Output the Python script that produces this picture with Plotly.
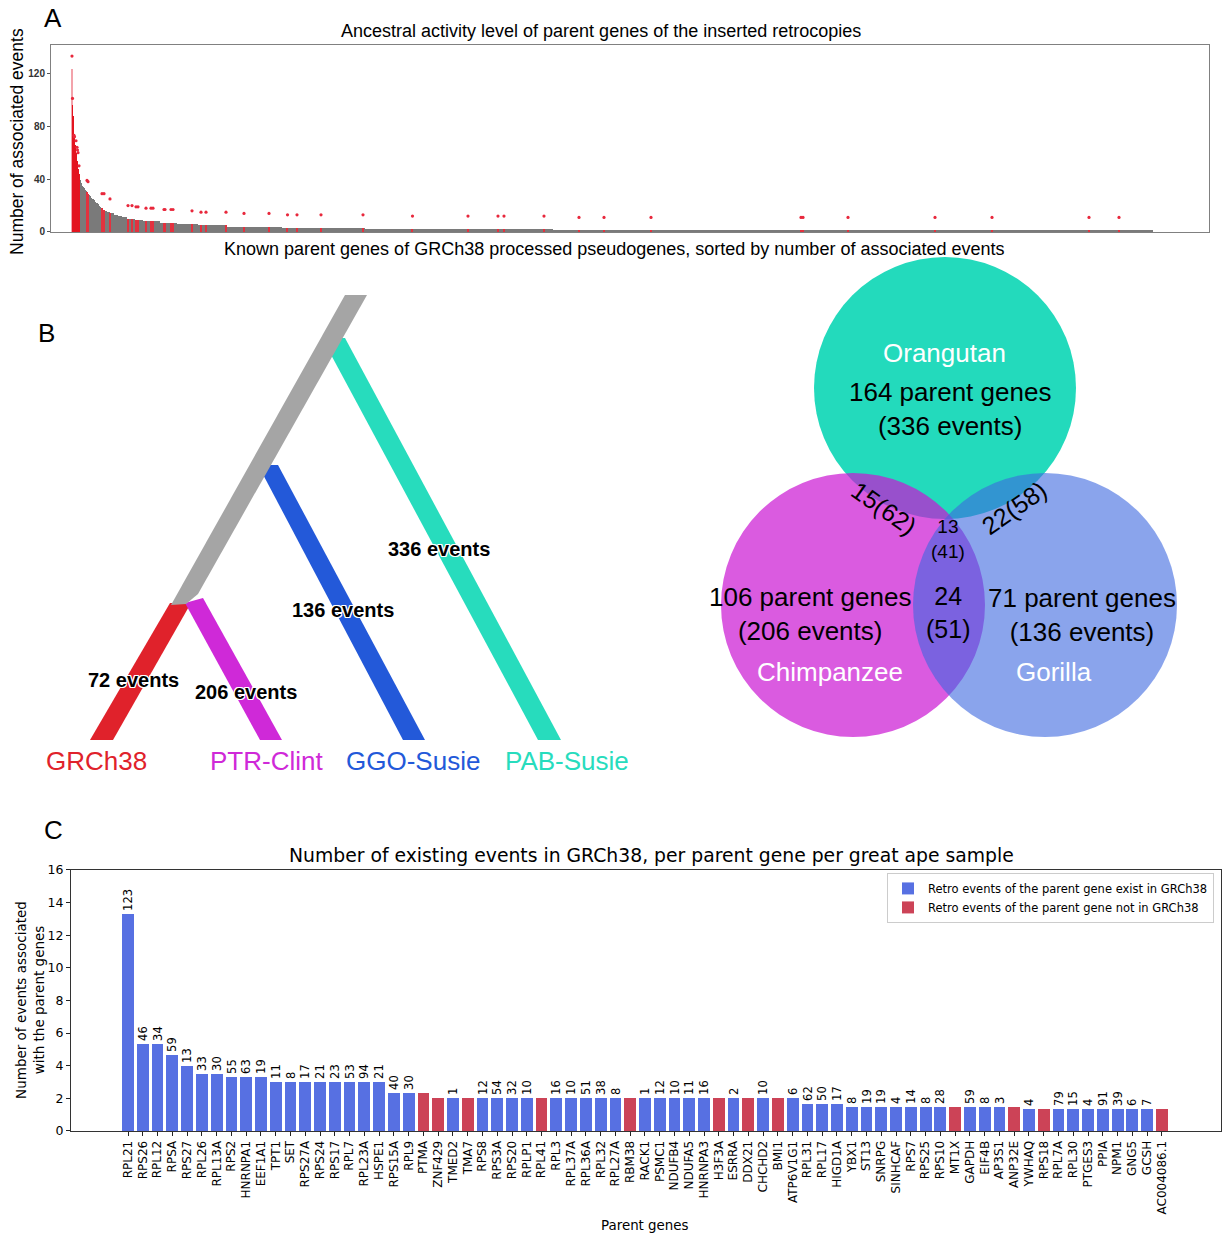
import plotly.graph_objects as go

# ---------------- Panel A data ----------------
top_gene_events = [123, 96, 88, 80, 74, 70, 66, 63, 60, 57, 54, 51, 48, 46, 44, 42]
level_events = [39, 37, 35, 34, 33, 32, 31, 30, 29, 28, 27, 26, 25, 24, 23, 22, 21, 20, 19,
                18, 17, 16, 15, 14, 13, 12, 11, 10, 9, 8, 7, 6, 5, 4, 3, 2, 1]
level_gene_counts = [2, 2, 2, 2, 2, 2, 2, 2, 2, 2, 2, 3, 3, 2, 3, 3, 2, 2, 3,
                     4, 3, 4, 6, 8, 8, 8, 10, 16, 16, 34, 34, 42, 58, 110, 166, 376, 1200]
active_gene_rank = [0, 1, 4, 5, 8, 10, 11, 12, 14, 30, 32, 60, 64, 76, 112, 120, 128, 132,
                    148, 158, 162, 184, 186, 198, 202, 240, 258, 268, 308, 344, 394, 431,
                    450, 498, 582, 681, 792, 852, 864, 944, 1014, 1064, 1158, 1458, 1462,
                    1552, 1726, 1840, 2034, 2094]
active_gene_ancestral = [133, 101, 73, 72, 69, 64, 62, 60, 50, 39, 38, 29, 29, 25, 20, 20, 19,
                         19, 18, 18, 18, 17, 17, 17, 17, 16, 15, 15, 15, 14, 14, 13, 13, 13,
                         13, 12, 12, 12, 12, 12, 11, 11, 11, 11, 11, 11, 11, 11, 11, 11]

# ---------------- Panel B data ----------------
tree_samples = ["GRCh38", "PTR-Clint", "GGO-Susie", "PAB-Susie"]
tree_events = [72, 206, 136, 336]
venn_species = ["Orangutan", "Chimpanzee", "Gorilla"]
venn_unique_genes = [164, 106, 71]
venn_unique_events = [336, 206, 136]
venn_pairs = ["Orangutan&Chimpanzee", "Orangutan&Gorilla", "Chimpanzee&Gorilla"]
venn_pair_genes = [15, 22, 24]
venn_pair_events = [62, 58, 51]
venn_all_genes = 13
venn_all_events = 41

# ---------------- Panel C data ----------------
genes = ["RPL21", "RPS26", "RPL12", "RPSA", "RPS27", "RPL26", "RPL13A", "RPS2", "HNRNPA1",
         "EEF1A1", "TPT1", "SET", "RPS27A", "RPS24", "RPS17", "RPL7", "RPL23A", "HSPE1",
         "RPS15A", "RPL9", "PTMA", "ZNF429", "TMED2", "TMA7", "RPS8", "RPS3A", "RPS20",
         "RPLP1", "RPL41", "RPL3", "RPL37A", "RPL36A", "RPL32", "RPL27A", "RBM38", "RACK1",
         "PSMC1", "NDUFB4", "NDUFA5", "HNRNPA3", "H3F3A", "ESRRA", "DDX21", "CHCHD2", "BMI1",
         "ATP6V1G1", "RPL31", "RPL17", "HIGD1A", "YBX1", "ST13", "SNRPG", "SINHCAF", "RPS7",
         "RPS25", "RPS10", "MT1X", "GAPDH", "EIF4B", "AP3S1", "ANP32E", "YWHAQ", "RPS18",
         "RPL7A", "RPL30", "PTGES3", "PPIA", "NPM1", "GNG5", "GCSH", "AC004086.1"]
events_per_sample = [13.33, 5.33, 5.33, 4.67, 4.0, 3.5, 3.5, 3.33, 3.33, 3.33, 3, 3, 3, 3, 3,
                     3, 3, 3, 2.33, 2.33, 2.33, 2, 2, 2, 2, 2, 2, 2, 2, 2, 2, 2, 2, 2, 2, 2,
                     2, 2, 2, 2, 2, 2, 2, 2, 2, 2, 1.67, 1.67, 1.67, 1.5, 1.5, 1.5, 1.5, 1.5,
                     1.5, 1.5, 1.5, 1.5, 1.5, 1.5, 1.5, 1.33, 1.33, 1.33, 1.33, 1.33, 1.33,
                     1.33, 1.33, 1.33, 1.33]
in_grch38 = [1, 1, 1, 1, 1, 1, 1, 1, 1, 1, 1, 1, 1, 1, 1, 1, 1, 1, 1, 1, 0, 0, 1, 0, 1, 1, 1,
             1, 0, 1, 1, 1, 1, 1, 0, 1, 1, 1, 1, 1, 0, 1, 0, 1, 0, 1, 1, 1, 1, 1, 1, 1, 1, 1,
             1, 1, 0, 1, 1, 1, 0, 1, 0, 1, 1, 1, 1, 1, 1, 1, 0]
grch38_events = [123, 46, 34, 59, 13, 33, 30, 55, 63, 19, 11, 8, 17, 21, 23, 53, 94, 21, 40, 30,
                 None, None, 1, None, 12, 54, 32, 10, None, 16, 10, 51, 38, 8, None, 1, 12, 10,
                 11, 16, None, 2, None, 10, None, 6, 62, 50, 17, 8, 19, 19, 4, 14, 8, 28, None,
                 59, 8, 3, None, 4, None, 79, 15, 4, 91, 39, 6, 7, None]

ARIAL = "Liberation Sans, Arial, sans-serif"
DEJAVU = "DejaVu Sans, sans-serif"
W = 1222
# page geometry: the figure sits 8 px down the page and the photographed page
# area is ~1250 px tall, squeezed into 1235 px.
PAGE_TOP = 8.1
VSCALE = 1250 / 1235
FIG_H = 1242

fig = go.Figure()

# ---------------- Panel A traces ----------------
gx, gy, gw = [], [], []
rank = len(top_gene_events)
run_bounds = []
for v, c in zip(level_events, level_gene_counts):
    gx.append(rank + (c - 1) / 2)
    gy.append(v)
    gw.append(c)
    run_bounds.append((rank, rank + c, v))
    rank += c

fig.add_trace(go.Bar(x=gx, y=gy, width=gw, marker=dict(color="#7a7a7a", line=dict(width=0)),
                     xaxis="x", yaxis="y", showlegend=False, hoverinfo="skip"))

top_x = list(range(len(top_gene_events)))
top_colors = ["#f3a3ab"] + ["#e3141f"] * (len(top_gene_events) - 1)
fig.add_trace(go.Bar(x=top_x, y=top_gene_events, width=[1.2] * len(top_x),
                     marker=dict(color=top_colors, line=dict(width=0)),
                     xaxis="x", yaxis="y", showlegend=False, hoverinfo="skip"))

hx, hy = [], []
for r in active_gene_rank:
    if r >= len(top_gene_events):
        for a, b, v in run_bounds:
            if a <= r < b:
                hx.append(r)
                hy.append(v)
                break
fig.add_trace(go.Bar(x=hx, y=hy, width=[2.2] * len(hx),
                     marker=dict(color="#e2323f", line=dict(width=0)),
                     xaxis="x", yaxis="y", showlegend=False, hoverinfo="skip"))

fig.add_trace(go.Scatter(x=active_gene_rank, y=active_gene_ancestral, mode="markers",
                         marker=dict(color="#e8283c", size=3.2, line=dict(width=0)),
                         xaxis="x", yaxis="y", showlegend=False, hoverinfo="skip"))

# ---------------- Panel C traces ----------------
bx = [i for i in range(len(genes)) if in_grch38[i]]
by = [events_per_sample[i] for i in bx]
bt = [str(grch38_events[i]) for i in bx]
rx = [i for i in range(len(genes)) if not in_grch38[i]]
ry = [events_per_sample[i] for i in rx]

fig.add_trace(go.Bar(x=bx, y=by, width=0.8, text=bt, textposition="outside", textangle=-90,
                     constraintext="none", cliponaxis=False,
                     textfont=dict(family=DEJAVU, size=11.5, color="black"),
                     marker=dict(color="#5770e2", line=dict(width=0)),
                     name="Retro events of the parent gene exist in GRCh38",
                     xaxis="x2", yaxis="y2", hoverinfo="skip"))
fig.add_trace(go.Bar(x=rx, y=ry, width=0.8,
                     marker=dict(color="#cc4357", line=dict(width=0)),
                     name="Retro events of the parent gene not in GRCh38",
                     xaxis="x2", yaxis="y2", hoverinfo="skip"))

# ---------------- Panel B tree (pixel-space overlay axis) ----------------
branch_color = {"GRCh38": "#e0222b", "PTR-Clint": "#cf29d8", "GGO-Susie": "#2359d9",
                "PAB-Susie": "#27dcbd"}
branch_poly = {
    "PAB-Susie": [(322, 338), (345, 338), (561, 740), (538, 740)],
    "GGO-Susie": [(258, 465), (278, 465), (425, 740), (403, 740)],
    "PTR-Clint": [(185, 603), (203, 598), (282, 740), (260, 740)],
    "GRCh38": [(170, 603), (191, 603), (113, 740), (90, 740)],
}
for s in tree_samples:
    pts = branch_poly[s] + [branch_poly[s][0]]
    fig.add_trace(go.Scatter(x=[p[0] for p in pts], y=[p[1] for p in pts], mode="lines",
                             fill="toself", fillcolor=branch_color[s],
                             line=dict(width=0, color=branch_color[s]),
                             xaxis="x3", yaxis="y3", showlegend=False, hoverinfo="skip"))
trunk = [(345, 295), (367, 295), (198, 594), (186, 604), (171, 605), (345, 295)]
fig.add_trace(go.Scatter(x=[p[0] for p in trunk], y=[p[1] for p in trunk], mode="lines",
                         fill="toself", fillcolor="#a5a5a5", line=dict(width=0, color="#a5a5a5"),
                         xaxis="x3", yaxis="y3", showlegend=False, hoverinfo="skip"))


def ann(text, x, y, size, color="black", family=ARIAL, angle=0, **kw):
    fig.add_annotation(text=text, x=x, y=y, xref="x3", yref="y3", showarrow=False,
                       font=dict(size=size, color=color, family=family, **kw.pop("fontkw", {})),
                       textangle=angle, xanchor="center", yanchor="middle", **kw)


halo = ("1px 1px 0 #fff, -1px -1px 0 #fff, 1px -1px 0 #fff, -1px 1px 0 #fff, "
        "0 1px 0 #fff, 0 -1px 0 #fff, 1px 0 0 #fff, -1px 0 0 #fff")
ev_pos = {"GRCh38": (133, 680), "PTR-Clint": (246, 692), "GGO-Susie": (343, 610),
          "PAB-Susie": (439, 549)}
tip_pos = {"GRCh38": 96, "PTR-Clint": 266, "GGO-Susie": 413, "PAB-Susie": 567}
for s, e in zip(tree_samples, tree_events):
    ann(f"{e} events", ev_pos[s][0], ev_pos[s][1], 20,
        fontkw=dict(shadow=halo, weight="bold"))
    ann(s, tip_pos[s], 761, 26, color=branch_color[s])

# ---------------- Venn ----------------
circles = {"Orangutan": (945, 388, 131, "rgb(35,218,188)", 1.0),
           "Chimpanzee": (853, 605, 132, "rgb(202,22,211)", 0.7),
           "Gorilla": (1045, 605, 132, "rgb(60,103,223)", 0.6)}
for sp in venn_species:
    cx, cy, r, col, op = circles[sp]
    fig.add_shape(type="circle", xref="x3", yref="y3", x0=cx - r, x1=cx + r, y0=cy - r,
                  y1=cy + r, fillcolor=col, opacity=op, line=dict(width=0))

name_pos = {"Orangutan": (944, 353), "Chimpanzee": (830, 672), "Gorilla": (1054, 672)}
uniq_pos = {"Orangutan": (950, 409), "Chimpanzee": (810, 614), "Gorilla": (1082, 615)}
for sp, g, e in zip(venn_species, venn_unique_genes, venn_unique_events):
    ann(sp, *name_pos[sp], 26, color="white")
    ann(f"{g} parent genes<br>({e} events)", *uniq_pos[sp], 26)
pair_pos = {"Orangutan&Chimpanzee": (884, 508, 35), "Orangutan&Gorilla": (1014, 508, -35),
            "Chimpanzee&Gorilla": (948, 613, 0)}
for p, g, e in zip(venn_pairs, venn_pair_genes, venn_pair_events):
    x, y, a = pair_pos[p]
    if a == 0:
        ann(f"{g}<br>({e})", x, y, 25)
    else:
        ann(f"{g}({e})", x, y, 25, angle=a)
ann(f"{venn_all_genes}<br>({venn_all_events})", 948, 539, 19)

# ---------------- Panel titles / labels ----------------
ann("A", 53, 18, 26)
ann("B", 46, 333, 26)
ann("C", 53, 830, 26)
ann("Ancestral activity level of parent genes of the inserted retrocopies", 601, 31, 18)
ann("Known parent genes of GRCh38 processed pseudogenes, sorted by number of associated events",
    614, 249, 18)
ann("Number of associated events", 17, 142, 17.5, angle=-90)
ann("Number of existing events in GRCh38, per parent gene per great ape sample", 651, 856, 18.8,
    family=DEJAVU)
ann("Parent genes", 645, 1226, 13.4, family=DEJAVU)
ann("Number of events associated<br>with the parent genes", 30, 1000, 13.5, family=DEJAVU,
    angle=-90)


# ---------------- Layout ----------------
def pxx(x):
    return x / W


def pyy(y):
    # reference pixel row -> paper fraction of the figure
    return 1 - (y * VSCALE - PAGE_TOP) / FIG_H


y3_top = PAGE_TOP / VSCALE
y3_bottom = (FIG_H + PAGE_TOP) / VSCALE

fig.update_layout(
    width=W, height=FIG_H, margin=dict(l=0, r=0, t=0, b=0),
    paper_bgcolor="white", plot_bgcolor="rgba(0,0,0,0)",
    barmode="overlay", bargap=0,
    xaxis=dict(domain=[pxx(51), pxx(1209)], range=[-42, 2274], anchor="y",
               showticklabels=False, ticks="", showgrid=False, zeroline=False,
               showline=True, mirror=True, linecolor="#808080", linewidth=1),
    yaxis=dict(domain=[pyy(232), pyy(45)], range=[0, 141.4], anchor="x",
               tickvals=[0, 40, 80, 120], ticks="outside", ticklen=3, tickcolor="#555",
               tickfont=dict(family=ARIAL, size=10, color="#333", weight="bold"),
               showgrid=False, zeroline=False, showline=True, mirror=True,
               linecolor="#808080", linewidth=1),
    xaxis2=dict(domain=[pxx(71), pxx(1221)], range=[-3.86, 74.0], anchor="y2",
                tickvals=list(range(len(genes))), ticktext=genes, tickangle=-90,
                ticks="outside", ticklen=4, tickcolor="#222",
                tickfont=dict(family=DEJAVU, size=12, color="black"),
                showgrid=False, zeroline=False, showline=True, mirror=True,
                linecolor="#333", linewidth=1.2),
    yaxis2=dict(domain=[pyy(1131), pyy(870)], range=[0, 16], anchor="x2",
                tickvals=list(range(0, 17, 2)), ticks="outside", ticklen=4, tickcolor="#222",
                tickfont=dict(family=DEJAVU, size=12.5, color="black"),
                showgrid=False, zeroline=False, showline=True, mirror=True,
                linecolor="#333", linewidth=1.2),
    xaxis3=dict(domain=[0, 1], range=[0, W], anchor="y3", visible=False, fixedrange=True),
    yaxis3=dict(domain=[0, 1], range=[y3_bottom, y3_top], anchor="x3",
                visible=False, fixedrange=True),
    legend=dict(x=pxx(1214), xanchor="right", y=pyy(873), yanchor="top",
                bgcolor="rgba(255,255,255,0.9)", bordercolor="#cccccc", borderwidth=1,
                font=dict(family=DEJAVU, size=11.5, color="black"), tracegroupgap=0,
                itemwidth=30),
)

page_fix = "document.body.style.margin='0px 0px';"
fig.write_html("out.html", config={"displayModeBar": False}, post_script=page_fix)
